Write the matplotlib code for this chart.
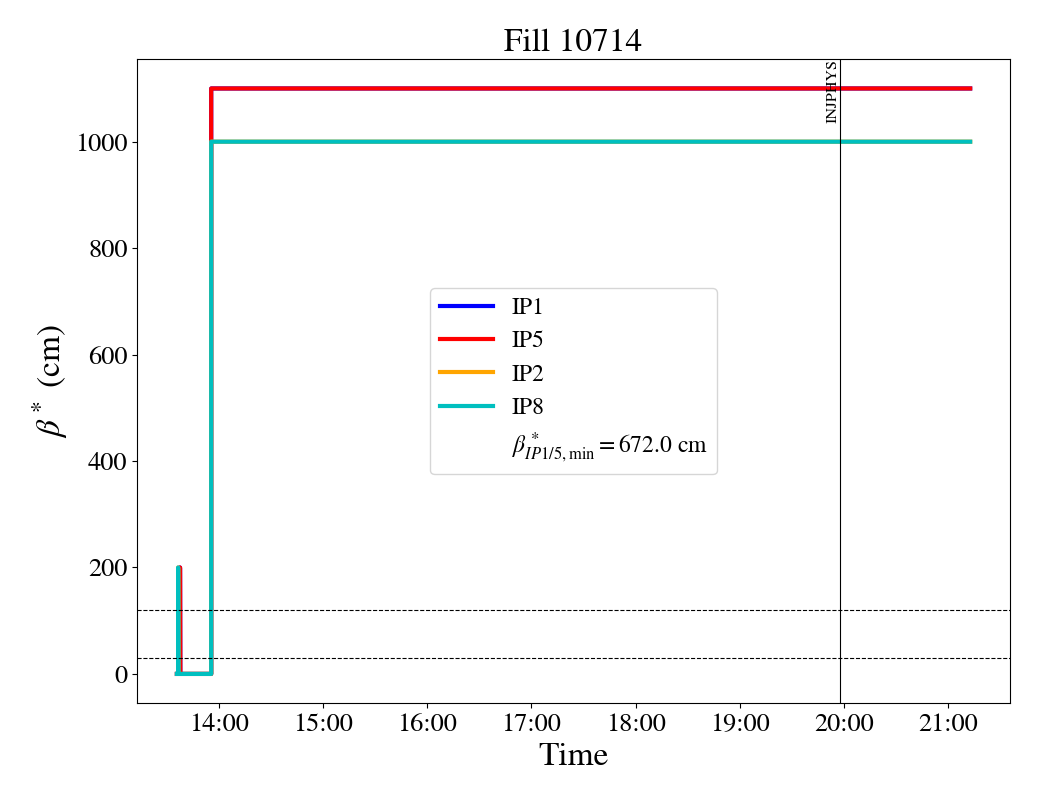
import matplotlib
matplotlib.use("Agg")
import matplotlib.pyplot as plt
import matplotlib.dates as mdates
import pandas as pd

plt.rcParams['font.family'] = ['STIXGeneral', 'Liberation Serif', 'DejaVu Serif']
plt.rcParams['mathtext.fontset'] = 'stix'

day = "2025-06-01 "
# beta* step data (time, cm)
ip15_times = ["13:35:40", "13:37:25", "13:37:26", "13:37:35", "13:55:24", "13:55:25", "21:12:50"]
ip1_values = [0, 0, 200, 0, 0, 1100, 1100]
ip5_values = [0, 0, 200, 0, 0, 1100, 1100]
ip28_times = ["13:35:40", "13:36:20", "13:36:21", "13:36:30", "13:55:24", "13:55:25", "21:12:50"]
ip2_values = [0, 0, 200, 0, 0, 1000, 1000]
ip8_values = [0, 0, 200, 0, 0, 1000, 1000]
beta_min = 672.0
threshold_levels = [120, 30]
injphys_time = "19:57:45"
title = "Fill 10714"

t15 = pd.to_datetime([day + t for t in ip15_times])
t28 = pd.to_datetime([day + t for t in ip28_times])

fig = plt.figure(figsize=(10.4, 8), dpi=100)
ax = fig.add_axes([0.132, 0.121, 0.839, 0.805])

ax.plot(t15, ip1_values, color='blue', lw=3, label='IP1')
ax.plot(t15, ip5_values, color='red', lw=3, label='IP5')
ax.plot(t28, ip2_values, color='orange', lw=3, label='IP2')
ax.plot(t28, ip8_values, color='c', lw=3, label='IP8')
ax.plot([], [], ' ', label=r'$\beta^*_{IP1/5,\min} = %.1f$ cm' % beta_min)

for lvl in threshold_levels:
    ax.axhline(lvl, color='k', ls='--', lw=0.8)

tinj = pd.to_datetime(day + injphys_time)
ax.axvline(tinj, color='k', lw=0.8)
ax.text(tinj, ax.get_ylim()[1], 'INJPHYS', rotation=90, va='top', ha='right', fontsize=11.5)

ax.xaxis.set_major_locator(mdates.HourLocator())
ax.xaxis.set_major_formatter(mdates.DateFormatter('%H:%M'))
ax.tick_params(labelsize=19)
ax.set_xlabel('Time', fontsize=24)
ax.set_ylabel(r'$\beta^*$ (cm)', fontsize=24)
ax.set_title(title, fontsize=24)
ax.legend(loc='center', fontsize=17, handlelength=2.25)

fig.savefig('out.png', dpi=100)
